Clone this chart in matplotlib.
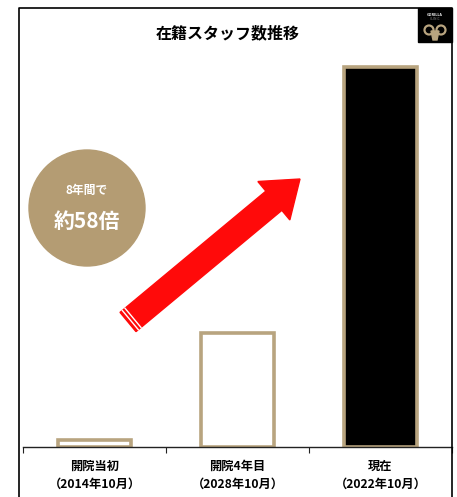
import matplotlib
matplotlib.use("Agg")
import matplotlib.pyplot as plt
from matplotlib.patches import Circle, Rectangle, Polygon
import numpy as np

plt.rcParams['font.family'] = ['Noto Sans CJK JP', 'DejaVu Sans']

# data (relative staff count, start = 1)
categories = ["開院当初\n（2014年10月）", "開院4年目\n（2028年10月）", "現在\n（2022年10月）"]
values = [1, 17.4, 58]
fills = ["white", "white", "black"]

title = "在籍スタッフ数推移"
badge_top = "8年間で"
badge_main = "約58倍"

TAN = "#b8a47f"
BADGE = "#b49c73"
RED = "#ff0a0a"

W, H = 457, 497
fig = plt.figure(figsize=(W / 100, H / 100), dpi=100)

# main bar axes
ax = fig.add_axes([23 / W, (H - 447) / H, 429 / W, 439 / H])
x = np.arange(len(categories))
ax.bar(x, values, width=0.51, color=fills, edgecolor=TAN, linewidth=2.6)
ax.set_xlim(-0.5, 2.5)
ax.set_ylim(0, 67)
for s in ["top", "right", "left"]:
    ax.spines[s].set_visible(False)
ax.spines["bottom"].set_color("#222222")
ax.spines["bottom"].set_linewidth(1.0)
ax.set_yticks([])
ax.set_xticks(x)
ax.set_xticklabels(categories, fontsize=8.8, fontweight="bold", linespacing=1.55)
ax.tick_params(axis="x", which="major", length=0, pad=9)
ax.set_xticks([-0.5, 0.5, 1.5, 2.5], minor=True)
ax.tick_params(axis="x", which="minor", length=4, width=0.8, color="#222222")

# overlay in pixel coordinates for frame, badge, arrow, logo
ov = fig.add_axes([0, 0, 1, 1])
ov.set_xlim(0, W)
ov.set_ylim(H, 0)
ov.axis("off")
ov.patch.set_alpha(0)

# frame
ov.plot([19, 19, 452, 452], [H, 8, 8, H], color="black", lw=1.2)

ov.text(228, 33, title, ha="center", va="center", fontsize=11.5, fontweight="bold")

# badge
ov.add_patch(Circle((87, 208), 58, color=BADGE))
ov.text(87, 190, badge_top, ha="center", va="center", fontsize=8.5,
        fontweight="bold", color="white")
ov.text(87, 221, badge_main, ha="center", va="center", fontsize=15,
        fontweight="bold", color="white")

# arrow
tail = np.array([128.0, 322.0])
tip = np.array([300.0, 179.0])
d = tip - tail
L = np.hypot(*d)
u = d / L
n = np.array([u[1], -u[0]])
sw, hw, hl = 12.5, 25.0, 34.0
neck = tip - u * hl
pts = [tail + n * sw, neck + n * sw, neck + n * hw, tip,
       neck - n * hw, neck - n * sw, tail - n * sw]
ov.add_patch(Polygon(pts, closed=True, color=RED))
for off in (3.0, 6.5):
    p = tail + u * off
    ov.plot([p[0] + n[0] * sw, p[0] - n[0] * sw],
            [p[1] + n[1] * sw, p[1] - n[1] * sw], color="white", lw=1.0)

# logo
ov.add_patch(Rectangle((418, 8), 34, 34, color="black"))
ov.text(435, 15, "GORILLA", ha="center", va="center", fontsize=2.6,
        color="white", fontweight="bold")
ov.text(435, 19, "CLINIC", ha="center", va="center", fontsize=2.4, color="#888888")
ov.add_patch(Circle((429, 30), 4.5, fill=False, ec=TAN, lw=1.6))
ov.add_patch(Circle((441, 30), 4.5, fill=False, ec=TAN, lw=1.6))
ov.add_patch(Polygon([(431, 31), (439, 31), (437, 40), (433, 40)], color=TAN))

fig.savefig("out.png", dpi=100)
